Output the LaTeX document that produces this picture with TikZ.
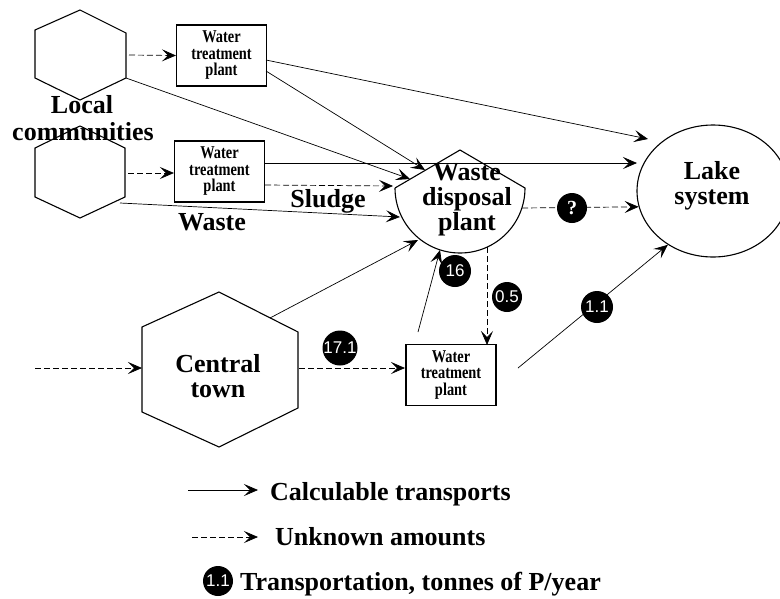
\documentclass[tikz,border=0pt]{standalone}
\usepackage{fontspec}
\setmainfont{Liberation Serif}
\newfontfamily\numfont{Liberation Sans}
\newfontfamily\wtpfont[FakeStretch=0.8]{Liberation Serif}
\usetikzlibrary{arrows.meta,shapes.geometric}
\begin{document}
\begin{tikzpicture}[x=1pt,y=-1pt,
  >={Stealth[length=14pt,width=12pt,inset=6pt]},
  flow/.style={line width=0.7pt,->},
  unk/.style={flow,dash pattern=on 6pt off 3pt},
  shp/.style={draw,line width=1.1pt},
  wtp/.style={draw,line width=1.1pt,minimum width=90pt,minimum height=61pt,align=center,inner sep=0pt,
    font=\wtpfont\bfseries\fontsize{18}{16.5}\selectfont},
  big/.style={inner sep=0pt,font=\bfseries\fontsize{26}{26}\selectfont},
  num/.style={circle,fill=black,text=white,minimum size=32pt,inner sep=0pt,font=\numfont\fontsize{17}{17}\selectfont}
]
\useasboundingbox (0,0) rectangle (780,598);

% ---------- shapes ----------
\draw[shp] (80,10) -- (126,33) -- (126,78) -- (80,100) -- (35,78) -- (35,30) -- cycle;
\draw[shp] (80,126) -- (125,148) -- (125,197) -- (80,218) -- (35,197) -- (35,148) -- cycle;
\draw[shp] (219,292) -- (298,332) -- (298,408) -- (219,447) -- (142,412) -- (142,327) -- cycle;
\draw[shp] (395,188) -- (460,150) -- (525,188) arc[start angle=0,end angle=180,radius=65];
\node[draw,ellipse,line width=1.1pt,minimum width=152pt,minimum height=132pt,inner sep=0pt] (lake) at (713,191) {};

\node[wtp] (wtp1) at (221.5,55.5) {Water\\treatment\\plant};
\node[wtp] (wtp2) at (219.5,171.5) {Water\\treatment\\plant};
\node[wtp] (wtp3) at (451,375) {Water\\treatment\\plant};

% ---------- connection points ----------
\coordinate (h1r) at (129,55);
\coordinate (h1c) at (126,78);
\coordinate (h2r) at (128,173);
\coordinate (h2c) at (120,203);
\coordinate (h3l) at (142,368);
\coordinate (h3r) at (299,368);
\coordinate (h3c) at (270,318);
\coordinate (src) at (35,368);
\coordinate (w1a) at (266,60);
\coordinate (w1b) at (266,71);
\coordinate (w2a) at (265,163);
\coordinate (w2b) at (265,185);
\coordinate (w3l) at (405,368);
\coordinate (w3t) at (418,332);
\coordinate (w3r) at (518,368);
\coordinate (w3n) at (487,345);
\coordinate (wdA) at (425,170);
\coordinate (wdB) at (410,179);
\coordinate (wdC) at (393,186);
\coordinate (wdD) at (400,217);
\coordinate (wdE) at (418,240);
\coordinate (wdF) at (440,250);
\coordinate (wdG) at (487,247);
\coordinate (wdH) at (522,208);
\coordinate (lkA) at (648,139);
\coordinate (lkB) at (637,163);

% ---------- connectors ----------
\draw[unk] (h1r) -- (wtp1.west);
\draw[unk] (h2r) -- (wtp2.west |- h2r);
\draw[unk] (src) -- (h3l);
\draw[unk] (h3r) -- (w3l);
\draw[flow] (w1a) -- (lkA);
\draw[flow] (w1b) -- (wdA);
\draw[flow] (h1c) -- (wdB);
\draw[flow] (w2a) -- (lkB);
\draw[unk] (w2b) -- (wdC);
\draw[flow] (h2c) -- (wdD);
\draw[flow] (h3c) -- (wdE);
\draw[flow] (w3t) -- (wdF);
\draw[unk] (wdG) -- (w3n);
\draw[unk] (wdH) -- (lake.192.6);
\draw[flow] (w3r) -- (lake.230.6);

% ---------- labels ----------
\node[big,anchor=base] (loc1) at (82,113) {Local};
\node[big,anchor=base] (loc2) at (83,140) {communities};
\node[big,anchor=base] (wd1) at (467,180) {Waste};
\node[big,anchor=base] (wd2) at (467,205) {disposal};
\node[big,anchor=base] (wd3) at (467,230) {plant};
\node[big,anchor=base] (lk1) at (712,179) {Lake};
\node[big,anchor=base] (lk2) at (712,204) {system};
\node[big,anchor=base] (ct1) at (218,372) {Central};
\node[big,anchor=base] (ct2) at (218,397) {town};
\node[big,anchor=base] (sludge) at (328,207) {Sludge};
\node[big,anchor=base] (waste) at (212,230) {Waste};

\node[num] (n16) at (455,271) {16};
\node[num,minimum size=30pt] (n05) at (507,297) {0.5};
\node[num,minimum size=30pt,font=\bfseries\fontsize{20}{20}\selectfont] (nq) at (572,208) {?};
\node[num] (n11) at (597,307) {1.1};
\node[num] (n171) at (340,348) {17.1};

% ---------- legend ----------
\coordinate (la1) at (188,490);
\coordinate (la2) at (258,490);
\coordinate (lb1) at (192,537);
\coordinate (lb2) at (258,537);
\draw[flow] (la1) -- (la2);
\draw[unk] (lb1) -- (lb2);
\node[big,anchor=base west] (leg1) at (270,500) {Calculable transports};
\node[big,anchor=base west] (leg2) at (275,545) {Unknown amounts};
\node[num,minimum size=30pt] (legc) at (218,581) {1.1};
\node[big,anchor=base west] (leg3) at (240,590) {Transportation, tonnes of P/year};
\end{tikzpicture}
\end{document}
